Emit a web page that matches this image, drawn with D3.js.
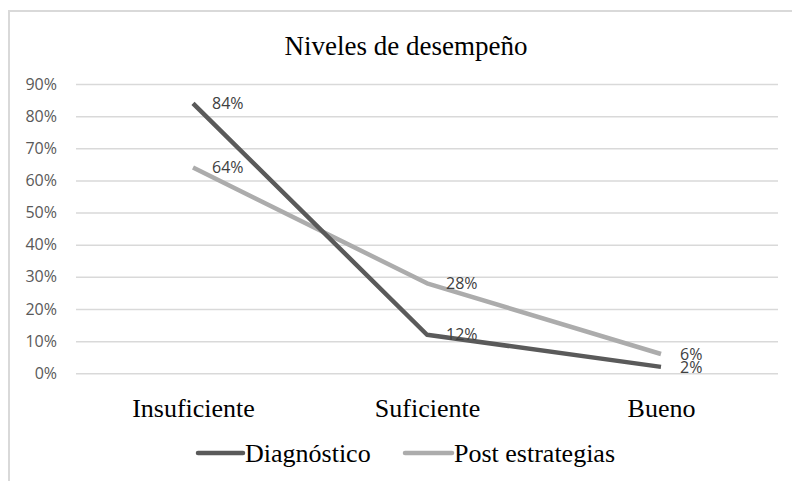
<!DOCTYPE html>
<html>
<head>
<meta charset="utf-8">
<script src="https://cdn.jsdelivr.net/npm/d3@7"></script>
<style>
  html, body { margin: 0; padding: 0; background: #fff; }
  svg { display: block; }
</style>
</head>
<body>
<svg id="chart" width="792" height="481"></svg>
<script>
const title = "Niveles de desempe\u00f1o";
const categories = ["Insuficiente", "Suficiente", "Bueno"];
const diagnostico = [84, 12, 2];
const postEstrategias = [64, 28, 6];
const seriesNames = ["Diagn\u00f3stico", "Post estrategias"];
const yTicks = [0, 10, 20, 30, 40, 50, 60, 70, 80, 90];

const series = [
  { name: seriesNames[0], values: diagnostico, color: "#5a5a5a" },
  { name: seriesNames[1], values: postEstrategias, color: "#acacac" }
];

const serif = "'Liberation Serif', 'DejaVu Serif', serif";
const sans = "'Open Sans', sans-serif";

const svg = d3.select("#chart");

svg.append("rect")
  .attr("x", 9).attr("y", 11).attr("width", 820).attr("height", 520)
  .attr("fill", "#fff").attr("stroke", "#d9d9d9").attr("stroke-width", 2);

const plot = { left: 76, right: 778, top: 84, bottom: 373.3 };

const x = d3.scalePoint().domain(categories)
  .range([plot.left, plot.right]).padding(0.5);
const y = d3.scaleLinear().domain([0, 90]).range([plot.bottom, plot.top]);

svg.append("text")
  .attr("x", 406).attr("y", 55)
  .attr("text-anchor", "middle")
  .attr("font-family", serif)
  .attr("font-size", 27).attr("fill", "#000")
  .text(title);

const yAxis = d3.axisLeft(y).tickValues(yTicks)
  .tickSize(-(plot.right - plot.left))
  .tickFormat(d => d + "%")
  .tickPadding(19);
const gy = svg.append("g")
  .attr("transform", `translate(${plot.left},0)`)
  .call(yAxis);
gy.select(".domain").remove();
gy.selectAll(".tick line").attr("stroke", "#d9d9d9").attr("stroke-width", 1.5);
gy.selectAll(".tick text")
  .attr("font-family", sans)
  .attr("font-size", 16).attr("fill", "#595959");

const xAxis = d3.axisBottom(x).tickSize(0).tickPadding(0);
const gx = svg.append("g")
  .attr("transform", `translate(0,${plot.bottom})`)
  .call(xAxis);
gx.select(".domain").remove();
gx.selectAll(".tick text")
  .attr("dy", null)
  .attr("y", 44)
  .attr("font-family", serif)
  .attr("font-size", 26).attr("fill", "#000");

const line = d3.line()
  .x((d, i) => x(categories[i]))
  .y(d => y(d));

[series[1], series[0]].forEach(s => {
  svg.append("path")
    .datum(s.values)
    .attr("d", line)
    .attr("fill", "none")
    .attr("stroke", s.color)
    .attr("stroke-width", 4.5)
    .attr("stroke-linejoin", "round");
});

series.forEach(s => {
  svg.append("g").selectAll("text")
    .data(s.values)
    .join("text")
    .attr("x", (d, i) => x(categories[i]) + 19)
    .attr("y", d => y(d))
    .attr("dy", "0.36em")
    .attr("font-family", sans)
    .attr("font-size", 16)
    .attr("fill", "#404040")
    .text(d => d + "%");
});

const legendItems = [
  { s: series[0], x1: 198, x2: 243 },
  { s: series[1], x1: 405, x2: 452 }
];
const legendY = 453;
legendItems.forEach(item => {
  svg.append("line")
    .attr("x1", item.x1).attr("x2", item.x2)
    .attr("y1", legendY).attr("y2", legendY)
    .attr("stroke", item.s.color).attr("stroke-width", 4.5)
    .attr("stroke-linecap", "round");
  svg.append("text")
    .attr("x", item.x2 + 2).attr("y", legendY)
    .attr("dy", "0.33em")
    .attr("font-family", serif)
    .attr("font-size", 26).attr("fill", "#000")
    .text(item.s.name);
});
</script>
</body>
</html>
